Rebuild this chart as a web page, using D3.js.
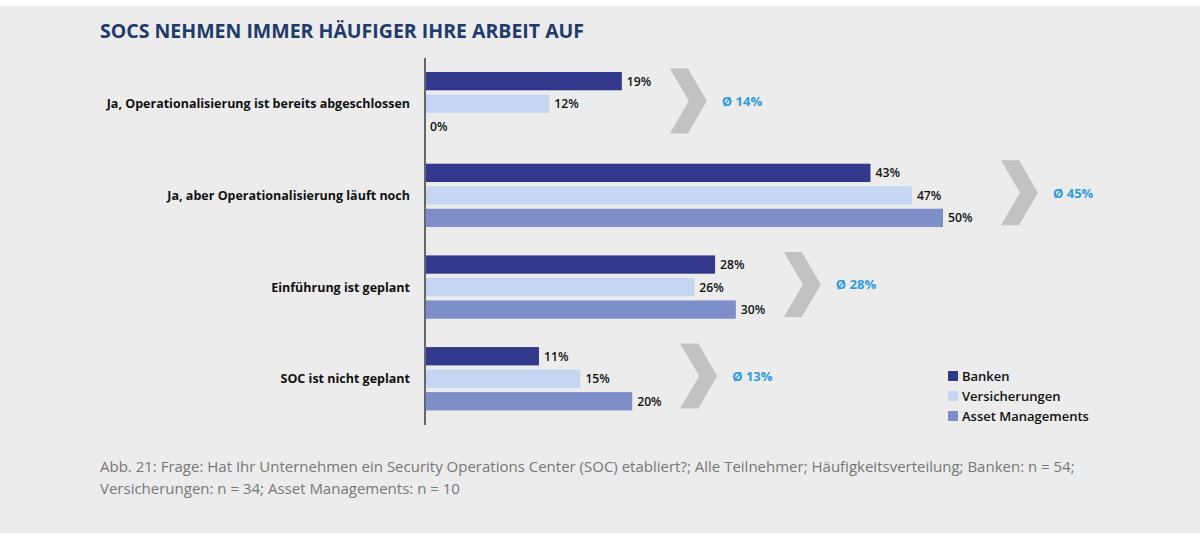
<!DOCTYPE html>
<html><head><meta charset="utf-8">
<script src="https://cdn.jsdelivr.net/npm/d3@7"></script>
<style>
html,body{margin:0;padding:0;background:#fff;}
svg{display:block;}
</style></head>
<body>
<svg id="chart" width="1200" height="538"></svg>
<script>
const categories = [
  "Ja, Operationalisierung ist bereits abgeschlossen",
  "Ja, aber Operationalisierung läuft noch",
  "Einführung ist geplant",
  "SOC ist nicht geplant"
];
const series = ["Banken", "Versicherungen", "Asset Managements"];
const banken = [19, 43, 28, 11];
const versicherungen = [12, 47, 26, 15];
const assetManagements = [0, 50, 30, 20];
const averages = [14, 45, 28, 13];
const colors = ["#32398c", "#c5d6f2", "#7d8ec9"];
const title = "SOCS NEHMEN IMMER HÄUFIGER IHRE ARBEIT AUF";
const footnote = [
  "Abb. 21: Frage: Hat Ihr Unternehmen ein Security Operations Center (SOC) etabliert?; Alle Teilnehmer; Häufigkeitsverteilung; Banken: n = 54;",
  "Versicherungen: n = 34; Asset Managements: n = 10"
];

const values = [banken, versicherungen, assetManagements];
const svg = d3.select("#chart");
const font = "'Open Sans', 'DejaVu Sans', sans-serif";

svg.append("rect").attr("x",0).attr("y",6).attr("width",1200).attr("height",527).attr("fill","#ebeceb");

svg.append("text").attr("x",100).attr("y",38).attr("font-family",font).attr("font-weight",700)
  .attr("font-size",19.5).attr("fill","#1f3a6c").text(title);

const x = d3.scaleLinear().domain([0,50]).range([425,943]);
const y0 = d3.scaleBand().domain(categories).range([72, 72 + 4*91.7]);
const y1 = d3.scaleBand().domain(series).range([0, 63.3]).paddingInner(0.187);

const groups = svg.selectAll("g.grp").data(categories).join("g")
  .attr("class","grp").attr("transform", d => `translate(0,${y0(d)})`);

groups.each(function(cat, ci){
  const g = d3.select(this);
  series.forEach((s, si) => {
    const v = values[si][ci];
    if (v > 0) {
      g.append("rect").attr("x", x(0)).attr("y", y1(s))
        .attr("width", x(v) - x(0)).attr("height", y1.bandwidth())
        .attr("fill", colors[si]);
    }
    g.append("text").attr("x", x(v) + 5).attr("y", y1(s) + y1.bandwidth()/2 + 4.5)
      .attr("font-family", font).attr("font-weight", 600).attr("font-size", 12.2)
      .attr("fill", "#111").text(v + "%");
  });
  g.append("text").attr("x", 410).attr("y", y1("Versicherungen") + y1.bandwidth()/2 + 4.5)
    .attr("text-anchor","end").attr("font-family", font).attr("font-weight", 700)
    .attr("font-size", 12.5).attr("fill", "#111").text(cat);
  const maxV = d3.max(values, arr => arr[ci]);
  const cx = x(maxV) + 48 + (maxV >= 45 ? 10 : 0);
  const cy = 29;
  const h = 32.5, w = 18, d = 19;
  const pts = [[cx, cy-h],[cx+w, cy-h],[cx+w+d, cy],[cx+w, cy+h],[cx, cy+h],[cx+d, cy]];
  g.append("path").attr("d", d3.line()(pts) + "Z").attr("fill", "#c2c2c2");
  g.append("text").attr("x", cx + w + d + 15).attr("y", cy + 5)
    .attr("font-family", font).attr("font-weight", 700).attr("font-size", 13)
    .attr("fill", "#2e9ce0").text("Ø " + averages[ci] + "%");
});

svg.append("line").attr("x1", 425).attr("x2", 425).attr("y1", 58).attr("y2", 425)
  .attr("stroke", "#666").attr("stroke-width", 2);

const leg = svg.selectAll("g.leg").data(series).join("g").attr("class","leg")
  .attr("transform", (d,i) => `translate(948,${371 + i*20})`);
leg.append("rect").attr("width", 10).attr("height", 10).attr("fill", (d,i) => colors[i]);
leg.append("text").attr("x", 14).attr("y", 10).attr("font-family", font).attr("font-weight", 600)
  .attr("font-size", 13).attr("fill", "#111").text(d => d);

svg.selectAll("text.foot").data(footnote).join("text").attr("class","foot")
  .attr("x", 100).attr("y", (d,i) => 472 + i*22).attr("font-family", font)
  .attr("font-size", 15).attr("fill", "#777").text(d => d);
</script>
</body></html>
